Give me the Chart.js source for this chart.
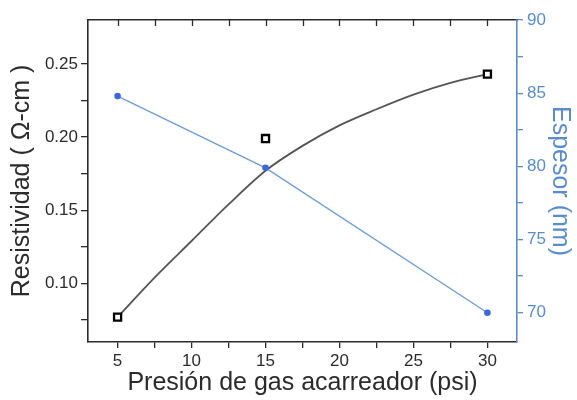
<!DOCTYPE html>
<html>
<head>
<meta charset="utf-8">
<title>Resistividad y espesor</title>
<script src="https://cdn.jsdelivr.net/npm/chart.js@4.4.1/dist/chart.umd.min.js"></script>
<style>
  html, body { margin: 0; padding: 0; background: #fff; }
  canvas { display: block; }
</style>
</head>
<body>
<canvas id="chart" width="577" height="400"></canvas>
<script>
// measured points
var presion = [5, 15, 30];
var resistividad = [0.077, 0.199, 0.243];
var espesor = [84.8, 79.9, 70.0];

// fitted resistivity curve
var ajusteX = [5, 7.5, 10, 12.5, 15, 17.5, 20, 22.5, 25, 27.5, 30];
var ajusteY = [0.077, 0.104, 0.129, 0.154, 0.177, 0.194, 0.208, 0.219, 0.229, 0.237, 0.243];

var blue = '#5a8ccb';
var dark = '#2b2b2b';
var fontFam = "'Liberation Sans', Arial, Helvetica, sans-serif";

function pts(xs, ys) {
  return xs.map(function (x, i) { return {x: x, y: ys[i]}; });
}

function isMajor(v, step) {
  return Math.abs(v / step - Math.round(v / step)) < 1e-6;
}

// top axis gets short inward ticks like the frame of the original plot
var innerTicks = {
  id: 'innerTicks',
  afterDraw: function (c) {
    var x = c.scales.x, top = c.chartArea.top;
    var ctx = c.ctx;
    ctx.save();
    ctx.strokeStyle = dark;
    ctx.lineWidth = 1.3;
    x.ticks.forEach(function (t) {
      var px = Math.round(x.getPixelForValue(t.value)) + 0.5;
      ctx.beginPath();
      ctx.moveTo(px, top);
      ctx.lineTo(px, top + 6);
      ctx.stroke();
    });
    ctx.restore();
  }
};

var ctx = document.getElementById('chart').getContext('2d');
var chart = new Chart(ctx, {
  data: {
    datasets: [
      {
        type: 'line',
        label: 'Resistividad',
        data: pts(presion, resistividad),
        showLine: false,
        pointStyle: 'rect',
        pointRadius: 5,
        pointBackgroundColor: '#fff',
        pointBorderColor: '#000',
        pointBorderWidth: 2.3,
        yAxisID: 'y',
        order: 1
      },
      {
        type: 'line',
        label: 'Espesor',
        data: pts(presion, espesor),
        borderColor: '#6f9dd2',
        borderWidth: 1.4,
        pointRadius: 3.3,
        pointBorderWidth: 0,
        pointBackgroundColor: '#3e66d6',
        fill: false,
        yAxisID: 'y2',
        order: 2
      },
      {
        type: 'line',
        label: 'Ajuste',
        data: pts(ajusteX, ajusteY),
        borderColor: '#555',
        borderWidth: 1.8,
        pointRadius: 0,
        cubicInterpolationMode: 'monotone',
        fill: false,
        yAxisID: 'y',
        order: 3
      }
    ]
  },
  options: {
    responsive: false,
    animation: false,
    layout: {padding: 0},
    plugins: {legend: {display: false}, tooltip: {enabled: false}},
    scales: {
      x: {
        type: 'linear',
        position: 'bottom',
        min: 3, max: 32,
        afterBuildTicks: function (s) {
          s.ticks = s.ticks.filter(function (t) { return t.value >= 5 && t.value <= 30; });
        },
        afterFit: function (s) { s.height = 58; },
        ticks: {
          stepSize: 2.5,
          autoSkip: false,
          maxRotation: 0,
          padding: 3,
          color: dark,
          font: {family: fontFam, size: 17},
          callback: function (v) { return isMajor(v, 5) ? String(v) : ''; }
        },
        grid: {drawOnChartArea: false, tickLength: 6, color: dark, lineWidth: 1.3},
        border: {color: dark, width: 1.6},
        title: {
          display: true,
          text: 'Presión de gas acarreador (psi)',
          color: dark,
          font: {family: fontFam, size: 25, lineHeight: 1},
          padding: {top: 0, bottom: 4}
        }
      },
      x2: {
        type: 'linear',
        position: 'top',
        min: 3, max: 32,
        afterFit: function (s) { s.height = 20; },
        ticks: {display: false},
        grid: {display: false, drawOnChartArea: false, drawTicks: false},
        border: {display: true, color: dark, width: 1.6}
      },
      y: {
        type: 'linear',
        position: 'left',
        min: 0.06, max: 0.28,
        afterBuildTicks: function (s) {
          s.ticks = s.ticks.filter(function (t) { return t.value >= 0.074 && t.value <= 0.276; });
        },
        afterFit: function (s) { s.width = 88; },
        ticks: {
          stepSize: 0.025,
          autoSkip: false,
          padding: 3,
          color: dark,
          font: {family: fontFam, size: 17},
          callback: function (v) { return isMajor(v, 0.05) ? v.toFixed(2) : ''; }
        },
        grid: {drawOnChartArea: false, tickLength: 7, color: dark, lineWidth: 1.3},
        border: {color: dark, width: 1.6},
        title: {
          display: true,
          text: 'Resistividad ( Ω-cm )',
          color: dark,
          font: {family: fontFam, size: 25, lineHeight: 1},
          padding: {top: 10, bottom: 0}
        }
      },
      y2: {
        type: 'linear',
        position: 'right',
        min: 68, max: 90,
        afterBuildTicks: function (s) {
          s.ticks = s.ticks.filter(function (t) { return t.value >= 70 && t.value <= 90; });
        },
        afterFit: function (s) { s.width = 60; },
        ticks: {
          stepSize: 2.5,
          autoSkip: false,
          padding: 4,
          color: blue,
          font: {family: fontFam, size: 17},
          callback: function (v) { return isMajor(v, 5) ? String(v) : ''; }
        },
        grid: {drawOnChartArea: false, tickLength: 6, color: blue, lineWidth: 1.3},
        border: {color: blue, width: 1.6},
        title: {
          display: true,
          text: 'Espesor (nm)',
          color: blue,
          font: {family: fontFam, size: 25, lineHeight: 1},
          padding: {top: 5, bottom: 0}
        }
      }
    }
  },
  plugins: [innerTicks]
});
</script>
</body>
</html>
